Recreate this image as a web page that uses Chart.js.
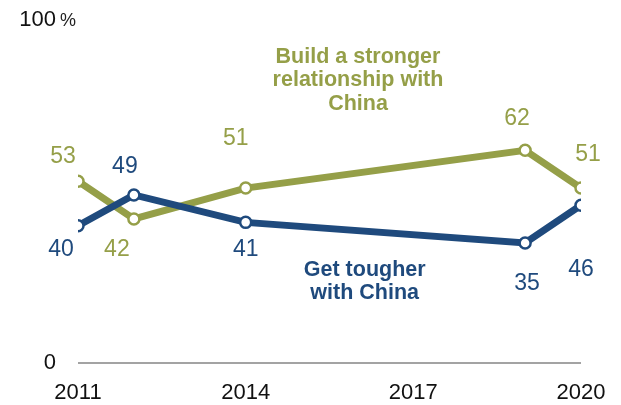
<!DOCTYPE html>
<html>
<head>
<meta charset="utf-8">
<script src="https://cdn.jsdelivr.net/npm/chart.js@4.4.1/dist/chart.umd.min.js"></script>
<style>
  html, body { margin: 0; padding: 0; background: #fff; }
  #wrap { width: 621px; height: 405px; }
</style>
</head>
<body>
<div id="wrap"><canvas id="china"></canvas></div>
<script>
const years = [2011, 2012, 2014, 2019, 2020];
const tougher = [40, 49, 41, 35, 46];
const stronger = [53, 42, 51, 62, 51];
const xTicks = [2011, 2014, 2017, 2020];
const yTicks = [0, 100];

const tougherName = ["Get tougher", "with China"];
const strongerName = ["Build a stronger", "relationship with", "China"];

const tougherColor = "#1f4a7d";
const strongerColor = "#959f48";
const numFont = "23px 'Liberation Sans', Arial, sans-serif";
const nameFont = "bold 21.5px 'Liberation Sans', Arial, sans-serif";

// where each value label sits relative to its point (px)
const tougherLabelOffsets = [[-17, 24], [-9, -28], [0, 27], [2, 41], [0, 64]];
const strongerLabelOffsets = [[-15, -25], [-17, 31], [-10, -49], [-8, -32], [7, -33]];

const valueLabels = {
  id: "valueLabels",
  afterDatasetsDraw(chart) {
    const c = chart.ctx;
    c.save();
    c.font = numFont;
    c.textAlign = "center";
    c.textBaseline = "middle";
    chart.data.datasets.forEach((ds, i) => {
      const meta = chart.getDatasetMeta(i);
      c.fillStyle = ds.borderColor;
      meta.data.forEach((pt, j) => {
        const [dx, dy] = ds.labelOffsets[j];
        c.fillText(ds.data[j].y, pt.x + dx, pt.y + dy);
      });
    });
    c.restore();
  },
};

// series names written straight onto the plot, plus the % after 100
const seriesNames = {
  id: "seriesNames",
  afterDraw(chart) {
    const c = chart.ctx;
    const xs = chart.scales.x;
    const ys = chart.scales.y;
    c.save();
    c.font = nameFont;
    c.textAlign = "center";
    c.textBaseline = "middle";
    c.fillStyle = strongerColor;
    strongerName.forEach((line, i) => {
      c.fillText(line, xs.getPixelForValue(2016.01), ys.getPixelForValue(89.2) + i * 23.5);
    });
    c.fillStyle = tougherColor;
    tougherName.forEach((line, i) => {
      c.fillText(line, xs.getPixelForValue(2016.13), ys.getPixelForValue(27.1) + i * 23);
    });
    c.font = "18px 'Liberation Sans', Arial, sans-serif";
    c.textAlign = "left";
    c.fillStyle = "#222";
    c.fillText("%", ys.right - 22 + 4, ys.getPixelForValue(100) + 1);
    c.restore();
  },
};

const pts = (vals) => vals.map((v, i) => ({ x: years[i], y: v }));

const chinaChart = new Chart(document.getElementById("china"), {
  type: "line",
  data: {
    datasets: [
      {
        label: "Get tougher with China",
        data: pts(tougher),
        borderColor: tougherColor,
        backgroundColor: "#fff",
        borderWidth: 7,
        pointRadius: 5.5,
        pointBorderWidth: 2.5,
        pointBorderColor: tougherColor,
        pointBackgroundColor: "#fff",
        labelOffsets: tougherLabelOffsets,
      },
      {
        label: "Build a stronger relationship with China",
        data: pts(stronger),
        borderColor: strongerColor,
        backgroundColor: "#fff",
        borderWidth: 7,
        pointRadius: 5.5,
        pointBorderWidth: 2.5,
        pointBorderColor: strongerColor,
        pointBackgroundColor: "#fff",
        labelOffsets: strongerLabelOffsets,
      },
    ],
  },
  options: {
    responsive: true,
    maintainAspectRatio: false,
    animation: false,
    layout: { padding: { top: 20, right: 40, left: 0, bottom: 0 } },
    plugins: {
      legend: { display: false },
      tooltip: { enabled: false },
    },
    scales: {
      x: {
        type: "linear",
        min: 2011,
        max: 2020,
        afterBuildTicks: (scale) => {
          scale.ticks = xTicks.map((v) => ({ value: v }));
        },
        afterFit: (scale) => {
          scale.height = 42;
        },
        ticks: {
          callback: (v) => String(v),
          color: "#111",
          font: { family: "'Liberation Sans', Arial, sans-serif", size: 22 },
          padding: 9,
          maxRotation: 0,
        },
        grid: { display: false },
        border: { display: false },
      },
      y: {
        min: 0,
        max: 100,
        afterBuildTicks: (scale) => {
          scale.ticks = yTicks.map((v) => ({ value: v }));
        },
        afterFit: (scale) => {
          scale.width = 78;
          // keep the label padding from pushing the plot down
          scale.paddingTop = 0;
          scale.paddingBottom = 0;
        },
        ticks: {
          color: "#111",
          font: { family: "'Liberation Sans', Arial, sans-serif", size: 22 },
          padding: 22,
        },
        grid: {
          drawTicks: false,
          lineWidth: 2,
          color: (ctx) => (ctx.tick && ctx.tick.value === 0 ? "#a3a3a3" : "rgba(0,0,0,0)"),
        },
        border: { display: false },
      },
    },
  },
  plugins: [valueLabels, seriesNames],
});
</script>
</body>
</html>
